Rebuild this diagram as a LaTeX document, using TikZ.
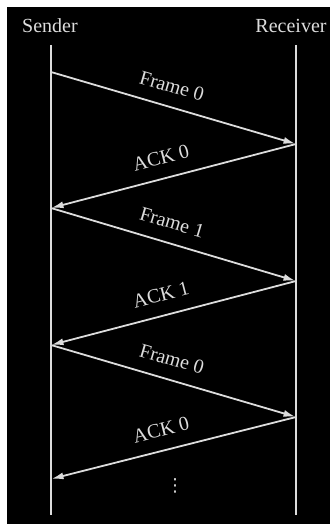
\documentclass[tikz,border=0pt]{standalone}
\usepackage{fontspec}
\setmainfont{Liberation Serif}
\newfontfamily\symfont{DejaVu Sans}
\usetikzlibrary{arrows.meta}
\definecolor{fg}{HTML}{DCDCDC}
\tikzset{
  lifeline/.style={draw=fg, line width=1.8pt},
  msg/.style={draw=fg, line width=1.8pt, -{Latex[length=12pt,width=7pt]}, shorten >=0.5pt},
  msglabel/.style={text=fg, font=\fontsize{20}{22}\selectfont, inner sep=0pt, above=13pt, sloped, pos=0.47},
  head/.style={text=fg, font=\fontsize{20}{22}\selectfont, inner sep=0pt, anchor=base}
}
\begin{document}
\begin{tikzpicture}[x=1pt,y=-1pt]
\useasboundingbox (0,0) rectangle (330,524);
\fill[white] (0,0) rectangle (330,524);
\fill[black] (7,7) rectangle (330,524);
\node[head] (sender) at (50,33) {Sender};
\node[head] (receiver) at (291,33) {Receiver};
\coordinate (stop) at (51,45);
\coordinate (sbot) at (51,515);
\coordinate (rtop) at (296,45);
\coordinate (rbot) at (296,515);
\draw[lifeline] (stop) -- (sbot);
\draw[lifeline] (rtop) -- (rbot);
\coordinate (s0) at (51,72);
\coordinate (r0) at (296,144);
\coordinate (s1) at (51,208);
\coordinate (r1) at (296,281);
\coordinate (s2) at (51,345);
\coordinate (r2) at (296,417);
\coordinate (s3) at (51,479);
\draw[msg] (s0) -- node[msglabel] {Frame 0} (r0);
\draw[msg] (r0) -- node[msglabel, pos=0.53] {ACK 0} (s1);
\draw[msg] (s1) -- node[msglabel] {Frame 1} (r1);
\draw[msg] (r1) -- node[msglabel, pos=0.53] {ACK 1} (s2);
\draw[msg] (s2) -- node[msglabel] {Frame 0} (r2);
\draw[msg] (r2) -- node[msglabel, pos=0.53] {ACK 0} (s3);
\node[text=fg, inner sep=0pt, font=\symfont\fontsize{18}{20}\selectfont] (dots) at (175,486) {⋮};
\end{tikzpicture}
\end{document}
